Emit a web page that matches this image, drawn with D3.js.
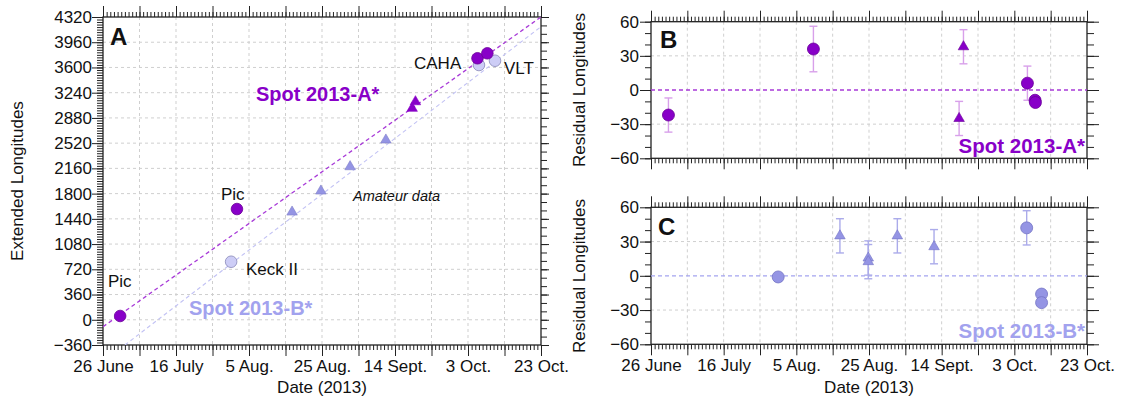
<!DOCTYPE html>
<html>
<head>
<meta charset="utf-8">
<script src="https://cdn.jsdelivr.net/npm/d3@7"></script>
<style>
  body { margin: 0; background: #fff; }
  svg { display: block; font-family: Arial, "Liberation Sans", sans-serif; }
</style>
</head>
<body>
<svg id="chart" width="1123" height="403"></svg>
<script>
// ── Data (dates as day-of-year 2013; 177 = 26 June) ──
const dateTicks  = [177, 197, 217, 237, 257, 277, 297];
const dateLabels = ["26 June", "16 July", "5 Aug.", "25 Aug.", "14 Sept.", "3 Oct.", "23 Oct."];
const extTicks   = [-360, 0, 360, 720, 1080, 1440, 1800, 2160, 2520, 2880, 3240, 3600, 3960, 4320];
const resTicks   = [-60, -30, 0, 30, 60];

// Panel A — extended longitudes
const spotACircleDay = [181.7, 213.7, 279.6, 282.3];
const spotACircleLon = [54, 1580, 3731, 3802];
const spotATriDay    = [261.7, 262.6];
const spotATriLon    = [3017, 3111];
const spotBCircleDay = [212.1, 280.0, 284.4];
const spotBCircleLon = [828, 3635, 3696];
const spotBTriDay    = [228.8, 236.7, 244.7, 254.5];
const spotBTriLon    = [1537, 1837, 2184, 2565];
// linear drift fits (start / end points)
const fitADay = [177, 297], fitALon = [-99, 4320];
const fitBDay = [183, 297], fitBLon = [-360, 4182];

// Panel B — residuals spot A
const resACircleDay = [181.8, 221.7, 280.6, 282.7, 282.8];
const resACircleVal = [-22, 36, 6, -9, -11];
const resACircleErr = [15, 20, 15, 3, 3];
const resATriDay    = [263.0, 261.8];
const resATriVal    = [38, -25];
const resATriErr    = [15, 15];

// Panel C — residuals spot B
const resBCircleDay = [212.0, 280.4, 284.5, 284.5];
const resBCircleVal = [-1, 42, -16, -23.5];
const resBCircleErr = [0, 15, 0, 0];
const resBTriDay    = [229.0, 236.8, 236.8, 244.8, 254.9];
const resBTriVal    = [35, 15.6, 12.4, 35, 25.5];
const resBTriErr    = [15, 15, 15, 15, 15];

// ── Colours ──
const PURPLE = '#8800c8', PURPLE_LINE = '#a83ad8', PURPLE_ERR = '#d8a0ea';
const LILAC = '#9494e4', LILAC_LINE = '#c2c2f4', LILAC_ERR = '#ababea';
const LILAC_LIGHT = '#cdcdf6', LILAC_STROKE = '#8686b8';

const svg = d3.select('#chart');
const FONT = 17;

const zip = (a, b, c) => a.map((v, i) => c ? [v, b[i], c[i]] : [v, b[i]]);
const range = (a, b, s) => { const r = []; for (let v = a; v <= b + 1e-9; v += s) r.push(+v.toFixed(6)); return r; };

// ── Frame: grid, box, major/minor ticks on four sides ──
function frame(x, y, o) {
  const [xl, xr] = x.range(), [yb, yt] = y.range();
  const g = svg.append('g');

  g.append('g').selectAll('line').data(o.xGrid).join('line')
    .attr('x1', d => x(d)).attr('x2', d => x(d)).attr('y1', yt).attr('y2', yb)
    .attr('stroke', '#cfcfcf').attr('stroke-dasharray', '3,3');
  g.append('g').selectAll('line').data(o.yGrid).join('line')
    .attr('y1', d => y(d)).attr('y2', d => y(d)).attr('x1', xl).attr('x2', xr)
    .attr('stroke', '#cfcfcf').attr('stroke-dasharray', '3,3');

  const ticks = (axis, tr, vals, size) => {
    const a = g.append('g').attr('transform', tr)
      .call(axis.tickValues(vals).tickSize(size).tickFormat(''));
    a.select('.domain').remove();
    a.selectAll('line').attr('stroke', '#222').attr('stroke-width', 1);
  };
  ticks(d3.axisTop(x), `translate(0,${yt})`, o.xMinor, 5);
  ticks(d3.axisTop(x), `translate(0,${yt})`, o.xMajor, 11);
  ticks(d3.axisBottom(x), `translate(0,${yb})`, o.xMinor, 5);
  ticks(d3.axisBottom(x), `translate(0,${yb})`, o.xMajor, 11);
  ticks(d3.axisLeft(y), `translate(${xl},0)`, o.yMinorL, 6);
  ticks(d3.axisLeft(y), `translate(${xl},0)`, o.yMajor, 11);
  ticks(d3.axisRight(y), `translate(${xr},0)`, o.yMinorR, o.rMinor);
  ticks(d3.axisRight(y), `translate(${xr},0)`, o.yMajor, o.rMajor);

  g.append('rect').attr('x', xl).attr('y', yt).attr('width', xr - xl).attr('height', yb - yt)
    .attr('fill', 'none').attr('stroke', '#222').attr('stroke-width', 1.3);

  // y labels
  const yl = g.append('g').attr('transform', `translate(${xl},0)`)
    .call(d3.axisLeft(y).tickValues(o.yMajor).tickFormat(d3.format('d')).tickSize(0).tickPadding(o.yPad));
  yl.select('.domain').remove();
  yl.selectAll('text').attr('font-size', FONT).attr('font-family', null).attr('fill', '#111');

  if (o.xLabels) {
    const xlab = g.append('g').attr('transform', `translate(0,${yb})`)
      .call(d3.axisBottom(x).tickValues(dateTicks).tickFormat((d, i) => dateLabels[i]).tickSize(0).tickPadding(15));
    xlab.select('.domain').remove();
    xlab.selectAll('text').attr('font-size', FONT).attr('font-family', null).attr('fill', '#111');
  }
  return g;
}

const text = (x, y, s, o = {}) => svg.append('text').attr('x', x).attr('y', y).text(s)
  .attr('font-size', o.size || FONT).attr('font-weight', o.weight || null)
  .attr('font-style', o.style || null).attr('fill', o.fill || '#111')
  .attr('text-anchor', o.anchor || 'start');

const vlabel = (x, y, s) => svg.append('text').attr('transform', `translate(${x},${y}) rotate(-90)`)
  .attr('text-anchor', 'middle').attr('font-size', FONT).attr('fill', '#111').text(s);

const xMajor = range(177, 297, 10);
const xMinor = range(177, 297, 1);

// ── Panel A ──
const xA = d3.scaleLinear().domain([177, 297]).range([103, 541]);
const yA = d3.scaleLinear().domain([-360, 4320]).range([345, 17]);
frame(xA, yA, {
  xGrid: xMajor.slice(1, -1), yGrid: extTicks.slice(1, -1),
  xMajor, xMinor, yMajor: extTicks, yMinorL: range(-360, 4320, 36), yMinorR: range(-360, 4320, 120),
  rMajor: 8, rMinor: 6, yPad: 11, xLabels: true
});

svg.append('clipPath').attr('id', 'clipA').append('rect')
  .attr('x', 103).attr('y', 17).attr('width', 438).attr('height', 328);
const lineA = d3.line().x(d => xA(d[0])).y(d => yA(d[1]));
svg.append('path').attr('clip-path', 'url(#clipA)').attr('d', lineA(zip(fitBDay, fitBLon)))
  .attr('fill', 'none').attr('stroke', LILAC_LINE).attr('stroke-width', 1.1).attr('stroke-dasharray', '4,3');
svg.append('path').attr('clip-path', 'url(#clipA)').attr('d', lineA(zip(fitADay, fitALon)))
  .attr('fill', 'none').attr('stroke', PURPLE_LINE).attr('stroke-width', 1.3).attr('stroke-dasharray', '4,3');

const tri = d3.symbol(d3.symbolTriangle, 48);
function circles(x, y, data, fill, stroke, r) {
  svg.append('g').selectAll('circle').data(data).join('circle')
    .attr('cx', d => x(d[0])).attr('cy', d => y(d[1])).attr('r', r)
    .attr('fill', fill).attr('stroke', stroke).attr('stroke-width', 0.8);
}
function triangles(x, y, data, fill, stroke) {
  svg.append('g').selectAll('path').data(data).join('path')
    .attr('d', tri).attr('transform', d => `translate(${x(d[0])},${y(d[1])})`)
    .attr('fill', fill).attr('stroke', stroke).attr('stroke-width', 0.6);
}
function errbars(x, y, data, color) {
  const g = svg.append('g').attr('stroke', color).attr('stroke-width', 1.4);
  data.filter(d => d[2] > 0).forEach(d => {
    const cx = x(d[0]), t = y(d[1] + d[2]), b = y(d[1] - d[2]);
    g.append('line').attr('x1', cx).attr('x2', cx).attr('y1', t).attr('y2', b);
    g.append('line').attr('x1', cx - 4).attr('x2', cx + 4).attr('y1', t).attr('y2', t);
    g.append('line').attr('x1', cx - 4).attr('x2', cx + 4).attr('y1', b).attr('y2', b);
  });
}

triangles(xA, yA, zip(spotBTriDay, spotBTriLon), LILAC, '#8080c8');
circles(xA, yA, zip(spotBCircleDay, spotBCircleLon), LILAC_LIGHT, LILAC_STROKE, 5.8);
triangles(xA, yA, zip(spotATriDay, spotATriLon), PURPLE, PURPLE);
circles(xA, yA, zip(spotACircleDay, spotACircleLon), PURPLE, '#6a0098', 5.8);

text(110, 45, 'A', { size: 24, weight: 'bold' });
text(108, 287, 'Pic');
text(221, 200, 'Pic');
text(246, 275, 'Keck II');
text(414, 69, 'CAHA');
text(504, 74, 'VLT');
text(353, 201, 'Amateur data', { size: 14.5, style: 'italic' });
text(256, 101, 'Spot 2013-A*', { size: 20, weight: 'bold', fill: PURPLE });
text(189, 315, 'Spot 2013-B*', { size: 20, weight: 'bold', fill: '#a2a2ee' });
vlabel(23, 181, 'Extended Longitudes');
text(322, 393, 'Date (2013)', { anchor: 'middle' });

// ── Panels B and C ──
const xR = d3.scaleLinear().domain([177, 297]).range([651, 1087]);
function residualPanel(yRange, o) {
  const y = d3.scaleLinear().domain([-60, 60]).range(yRange);
  frame(xR, y, {
    xGrid: xMajor.slice(1, -1), yGrid: [-30, 30],
    xMajor, xMinor, yMajor: resTicks, yMinorL: range(-60, 60, 10), yMinorR: range(-60, 60, 10),
    rMajor: 12, rMinor: 7, yPad: 12, xLabels: o.xLabels
  });
  svg.append('line').attr('x1', 651).attr('x2', 1087).attr('y1', y(0)).attr('y2', y(0))
    .attr('stroke', o.zero).attr('stroke-width', 1.3).attr('stroke-dasharray', '4,3');
  errbars(xR, y, o.circles, o.err);
  errbars(xR, y, o.tris, o.err);
  triangles(xR, y, o.tris, o.fill, o.stroke);
  circles(xR, y, o.circles, o.fill, o.stroke, 6);
  return y;
}

residualPanel([158.3, 21.7], {
  circles: zip(resACircleDay, resACircleVal, resACircleErr),
  tris: zip(resATriDay, resATriVal, resATriErr),
  fill: PURPLE, stroke: '#6a0098', err: PURPLE_ERR, zero: PURPLE_LINE, xLabels: false
});
text(660, 48, 'B', { size: 24, weight: 'bold' });
text(1085, 153, 'Spot 2013-A*', { size: 20.5, weight: 'bold', fill: PURPLE, anchor: 'end' });
vlabel(585, 90, 'Residual Longitudes');

residualPanel([344.3, 207.3], {
  circles: zip(resBCircleDay, resBCircleVal, resBCircleErr),
  tris: zip(resBTriDay, resBTriVal, resBTriErr),
  fill: LILAC, stroke: '#7474c4', err: LILAC_ERR, zero: '#a4a4f0', xLabels: true
});
text(658, 235, 'C', { size: 24, weight: 'bold' });
text(1085, 338, 'Spot 2013-B*', { size: 20.5, weight: 'bold', fill: '#a2a2ee', anchor: 'end' });
vlabel(585, 276, 'Residual Longitudes');
text(869, 393, 'Date (2013)', { anchor: 'middle' });
</script>
</body>
</html>
